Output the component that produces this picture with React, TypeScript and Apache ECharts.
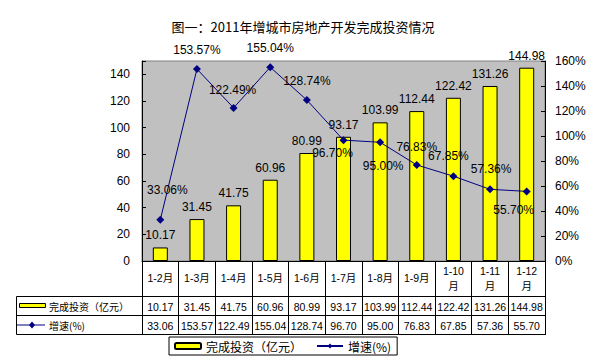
import React, { useEffect, useRef } from "react";
import * as echarts from "echarts";

// Cumulative periods of 2011
const categories = ["1-2月", "1-3月", "1-4月", "1-5月", "1-6月", "1-7月", "1-8月", "1-9月", "1-10月", "1-11月", "1-12月"];
// Completed investment, 100 million yuan
const investment = [10.17, 31.45, 41.75, 60.96, 80.99, 93.17, 103.99, 112.44, 122.42, 131.26, 144.98];
// Year-on-year growth, %
const growth = [33.06, 153.57, 122.49, 155.04, 128.74, 96.7, 95.0, 76.83, 67.85, 57.36, 55.7];

const barName = "完成投资（亿元）";
const lineName = "增速(%)";

// Label nudges for the growth line, so the labels keep clear of each other
const growthLabelOffsets: [number, number][] = [
  [7, -30], [0, -19], [-1, -18], [0, -19], [0, -19], [-11, 13],
  [3, 24], [0, -18], [-5, -20], [1, -20], [-13, 19],
];

const LATIN = "'Liberation Sans', Arial, 'Noto Sans CJK SC', sans-serif";
const CJK = "'Noto Sans CJK SC', 'Liberation Sans', sans-serif";

export default function App() {
  const ref = useRef<HTMLDivElement>(null);

  useEffect(() => {
    if (!ref.current) return;
    const chart = echarts.init(ref.current, undefined, { renderer: "svg" });

    const gridLeft = 142;
    const gridRight = 61;
    const gridTop = 61;
    const gridBottom = 102;
    const W = 606;
    const plotRight = W - gridRight;

    chart.setOption({
      animation: false,
      backgroundColor: "#fff",
      title: {
        text: "图一：2011年增城市房地产开发完成投资情况",
        left: "center",
        top: 15,
        textStyle: { fontFamily: CJK, fontSize: 13, fontWeight: "normal", color: "#000" },
      },
      legend: {
        left: 169,
        top: 337,
        data: [barName, lineName],
        itemWidth: 26,
        itemHeight: 6,
        itemGap: 14,
        padding: [3, 6, 3, 5],
        borderColor: "#000",
        borderWidth: 1,
        textStyle: { fontFamily: CJK, fontSize: 12, color: "#000" },
      },
      grid: {
        left: gridLeft,
        right: gridRight,
        top: gridTop,
        bottom: gridBottom,
        show: true,
        backgroundColor: "#C0C0C0",
        borderColor: "#808080",
        borderWidth: 1,
      },
      xAxis: {
        type: "category",
        data: categories,
        axisLine: { lineStyle: { color: "#000", width: 1 } },
        axisTick: { show: true, length: 74, interval: 0, lineStyle: { color: "#000" } },
        axisLabel: {
          interval: 0,
          margin: 17,
          fontFamily: LATIN,
          fontSize: 10.5,
          lineHeight: 15,
          verticalAlign: "middle",
          color: "#000",
          formatter: (v: string) => (v.length > 4 ? v.replace("月", "\n月") : v),
        },
      },
      yAxis: [
        {
          type: "value",
          min: 0,
          max: 150,
          interval: 20,
          axisLine: { show: true, lineStyle: { color: "#000" } },
          axisTick: { show: true, inside: true, length: 4, lineStyle: { color: "#000" } },
          splitLine: { show: false },
          axisLabel: {
            margin: 12,
            fontFamily: LATIN,
            fontSize: 12,
            color: "#000",
            formatter: (v: number) => (v > 140 ? "" : String(v)),
          },
        },
        {
          type: "value",
          min: 0,
          max: 160,
          interval: 20,
          position: "right",
          axisLine: { show: true, lineStyle: { color: "#000" } },
          axisTick: { show: true, inside: true, length: 4, lineStyle: { color: "#000" } },
          splitLine: { show: false },
          axisLabel: {
            margin: 10,
            fontFamily: LATIN,
            fontSize: 12,
            color: "#000",
            formatter: "{value}%",
          },
        },
      ],
      series: [
        {
          name: barName,
          type: "bar",
          data: investment,
          barWidth: 15,
          itemStyle: { color: "#FFFF00", borderColor: "#000", borderWidth: 1 },
          label: {
            show: true,
            position: "top",
            distance: 6,
            fontFamily: LATIN,
            fontSize: 12,
            color: "#000",
            formatter: (p: any) => Number(p.value).toFixed(2),
          },
          z: 2,
        },
        {
          name: lineName,
          type: "line",
          yAxisIndex: 1,
          data: growth.map((v, i) => ({
            value: v,
            label: { offset: growthLabelOffsets[i] },
          })),
          symbol: "diamond",
          symbolSize: 8,
          itemStyle: { color: "#000080" },
          lineStyle: { color: "#000080", width: 1 },
          label: {
            show: true,
            position: "inside",
            fontFamily: LATIN,
            fontSize: 12,
            color: "#000",
            formatter: (p: any) => Number(p.value).toFixed(2) + "%",
          },
          z: 3,
        },
      ],
    });

    // Data table beneath the category row
    const rowTop = 296.5;
    const rowMid = 315.5;
    const rowBottom = 334.5;
    const tableLeft = 16.5;
    const row1Y = (rowTop + rowMid) / 2;
    const row2Y = (rowMid + rowBottom) / 2;

    const elements: any[] = [];
    [rowTop, rowMid, rowBottom].forEach((y) => {
      elements.push({
        type: "line",
        shape: { x1: tableLeft, y1: y, x2: plotRight + 0.5, y2: y },
        style: { stroke: "#000", lineWidth: 1 },
        silent: true,
      });
    });
    elements.push({
      type: "line",
      shape: { x1: tableLeft, y1: rowTop, x2: tableLeft, y2: rowBottom },
      style: { stroke: "#000", lineWidth: 1 },
      silent: true,
    });

    categories.forEach((c, i) => {
      const x = chart.convertToPixel({ xAxisIndex: 0 }, c) as number;
      elements.push({
        type: "text",
        x,
        y: row1Y + 0.5,
        style: {
          text: investment[i].toFixed(2),
          fontFamily: LATIN,
          fontSize: 10.5,
          fill: "#000",
          align: "center",
          verticalAlign: "middle",
        },
        silent: true,
      });
      elements.push({
        type: "text",
        x,
        y: row2Y + 0.5,
        style: {
          text: growth[i].toFixed(2),
          fontFamily: LATIN,
          fontSize: 10.5,
          fill: "#000",
          align: "center",
          verticalAlign: "middle",
        },
        silent: true,
      });
    });

    // Row headers with their keys
    elements.push({
      type: "rect",
      shape: { x: 19.5, y: 303.5, width: 26, height: 4 },
      style: { fill: "#FFFF00", stroke: "#000", lineWidth: 1 },
      silent: true,
    });
    elements.push({
      type: "text",
      x: 49,
      y: row1Y,
      style: { text: barName, fontFamily: CJK, fontSize: 10, fill: "#000", verticalAlign: "middle" },
      silent: true,
    });
    elements.push({
      type: "line",
      shape: { x1: 17, y1: row2Y, x2: 45, y2: row2Y },
      style: { stroke: "#000080", lineWidth: 1 },
      silent: true,
    });
    elements.push({
      type: "polygon",
      shape: {
        points: [
          [32, row2Y - 3.5],
          [35, row2Y],
          [32, row2Y + 3.5],
          [29, row2Y],
        ],
      },
      style: { fill: "#000080" },
      silent: true,
    });
    elements.push({
      type: "text",
      x: 49,
      y: row2Y,
      style: { text: lineName, fontFamily: CJK, fontSize: 10, fill: "#000", verticalAlign: "middle" },
      silent: true,
    });

    chart.setOption({ graphic: { elements } });

    return () => chart.dispose();
  }, []);

  return (
    <div
      ref={ref}
      style={{ position: "absolute", left: 0, top: 0, width: 606, height: 363 }}
    />
  );
}
